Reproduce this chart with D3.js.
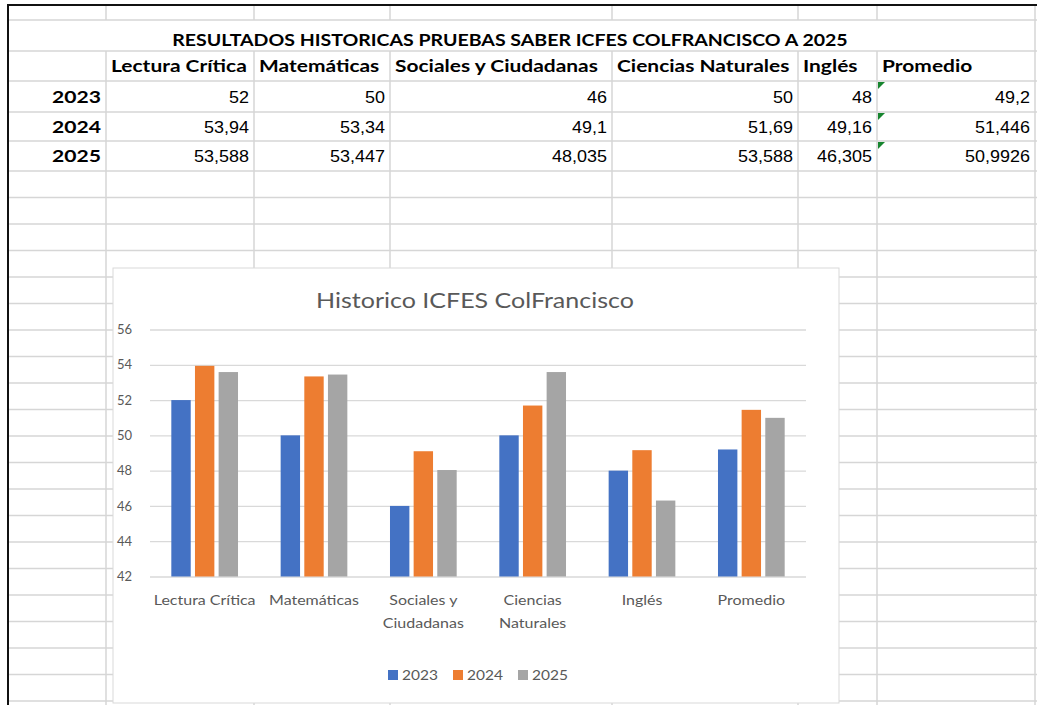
<!DOCTYPE html>
<html lang="es">
<head>
<meta charset="UTF-8">
<title>Historico ICFES ColFrancisco</title>
<script src="https://cdn.jsdelivr.net/npm/d3@7"></script>
<style>
  body{margin:0;background:#fff;}
  svg{display:block;}
</style>
</head>
<body>
<svg id="sheet" width="1037" height="705"></svg>
<script>
var sheetTitle = 'RESULTADOS HISTORICAS PRUEBAS SABER ICFES COLFRANCISCO A 2025';
var chartTitle = 'Historico ICFES ColFrancisco';
var categories = ['Lectura Crítica','Matemáticas','Sociales y Ciudadanas','Ciencias Naturales','Inglés','Promedio'];
var axisLabels = [['Lectura Crítica'],['Matemáticas'],['Sociales y','Ciudadanas'],['Ciencias','Naturales'],['Inglés'],['Promedio']];
var years = ['2023','2024','2025'];
var values2023 = [52,50,46,50,48,49.2];
var values2024 = [53.94,53.34,49.1,51.69,49.16,51.446];
var values2025 = [53.588,53.447,48.035,53.588,46.305,50.9926];
var yTicks = [42,44,46,48,50,52,54,56];
var colors = ['#4472C4','#ED7D31','#A5A5A5'];

var series = [values2023, values2024, values2025];

window.addEventListener('load', function(){

  var svg = d3.select('#sheet');
  var lato = 'Lato, Calibri, sans-serif';
  var arial = '"Liberation Sans", Arial, sans-serif';

  // sheet layout
  var colX = [8,106,254,390,612,798,877,1035];
  var rowY = [5,20,51,81,112,141,171];
  while (rowY[rowY.length-1] < 705) rowY.push(rowY[rowY.length-1] + 26.5);
  var gridColor = '#d6d6d6';

  // measure helper so Lato can stand in for Calibri widths
  function textWidth(str, family, size, weight){
    var t = svg.append('text')
      .attr('font-family', family).attr('font-size', size).attr('font-weight', weight)
      .text(str);
    var w = t.node().getComputedTextLength();
    t.remove();
    return w;
  }
  function makeStyle(family, size, weight, fill, sample, target){
    return {family:family, size:size, weight:weight, fill:fill,
            sx: target / textWidth(sample, family, size, weight)};
  }
  function label(parent, str, x, y, st, anchor){
    return parent.append('text')
      .attr('transform', 'translate(' + x + ',' + y + ') scale(' + st.sx + ',1)')
      .attr('font-family', st.family).attr('font-size', st.size)
      .attr('font-weight', st.weight).attr('fill', st.fill)
      .attr('text-anchor', anchor || 'start')
      .text(str);
  }

  var sTitle  = makeStyle(lato, 17, 'bold', '#000', sheetTitle, 676);
  var sHead   = makeStyle(lato, 17.5, 'bold', '#000', 'Sociales y Ciudadanas', 203);
  var sYear   = makeStyle(lato, 17.5, 'bold', '#000', '2025', 49);
  var sNum    = makeStyle(arial, 16, 'normal', '#000', '53,588', 55);
  var sChart  = makeStyle(lato, 22, 'normal', '#595959', chartTitle, 318);
  var sTick   = makeStyle(lato, 14, 'normal', '#595959', 'Matemáticas', 90);
  var sLegend = makeStyle(lato, 14, 'normal', '#595959', '2023', 36);

  // ---- spreadsheet grid ----
  var grid = svg.append('g').attr('stroke', gridColor).attr('stroke-width', 1.5);
  grid.selectAll('line.h')
    .data(rowY.slice(1))
    .enter().append('line')
    .attr('x1', colX[0]).attr('x2', 1037)
    .attr('y1', function(d){ return d; }).attr('y2', function(d){ return d; });
  colX.slice(1).forEach(function(x, i){
    var last = i === colX.length - 2;
    var segs = last ? [[5,705]] : [[5,rowY[1]],[rowY[2],705]];
    segs.forEach(function(s){
      grid.append('line').attr('x1', x).attr('x2', x).attr('y1', s[0]).attr('y2', s[1]);
    });
  });
  svg.append('line').attr('x1', colX[0]).attr('x2', 1037).attr('y1', 5).attr('y2', 5)
    .attr('stroke', '#111').attr('stroke-width', 2);
  svg.append('line').attr('x1', colX[0]).attr('x2', colX[0]).attr('y1', 4).attr('y2', 705)
    .attr('stroke', '#111').attr('stroke-width', 2);

  // ---- table ----
  var table = svg.append('g');
  label(table, sheetTitle, 510, 46, sTitle, 'middle');
  categories.forEach(function(c, i){
    label(table, c, colX[i+1] + 5, 72, sHead);
  });
  years.forEach(function(yr, j){
    var base = (rowY[3+j] + rowY[4+j]) / 2 + 6;
    label(table, yr, colX[1] - 5, base, sYear, 'end');
    series[j].forEach(function(v, i){
      label(table, String(v).replace('.', ','), colX[i+2] - 5, base, sNum, 'end');
    });
    table.append('path')
      .attr('d', d3.line()([[colX[6]+1, rowY[3+j]+1],[colX[6]+8, rowY[3+j]+1],[colX[6]+1, rowY[3+j]+8]]))
      .attr('fill', '#17852f');
  });

  // ---- chart ----
  var box = {x:113, y:268, w:726, h:435};
  var chart = svg.append('g');
  chart.append('rect')
    .attr('x', box.x).attr('y', box.y).attr('width', box.w).attr('height', box.h)
    .attr('fill', '#fff').attr('stroke', '#d9d9d9').attr('stroke-width', 1);

  label(chart, chartTitle, box.x + box.w/2 - 1, 308, sChart, 'middle');

  var plotL = 150, plotR = 806;
  var y = d3.scaleLinear().domain([42,56]).range([576.5,329.5]);
  var x0 = d3.scaleBand().domain(categories).range([plotL, plotR]).paddingInner(0.39).paddingOuter(0.195);
  var x1 = d3.scaleBand().domain(years).range([0, x0.bandwidth()]).paddingInner(0.18);

  var yAxis = chart.append('g')
    .attr('transform', 'translate(' + plotL + ',0)')
    .call(d3.axisLeft(y).tickValues(yTicks).tickSize(-(plotR - plotL)).tickPadding(18));
  yAxis.select('.domain').remove();
  yAxis.selectAll('line').attr('stroke', '#d9d9d9').attr('stroke-width', 1.3);
  yAxis.selectAll('text')
    .attr('font-family', lato).attr('font-size', 13).attr('fill', '#595959');

  var groups = chart.selectAll('g.cat')
    .data(categories)
    .enter().append('g')
    .attr('transform', function(d){ return 'translate(' + x0(d) + ',0)'; });
  groups.selectAll('rect')
    .data(function(d, i){ return years.map(function(yr, j){ return {year:yr, value:series[j][i], k:j}; }); })
    .enter().append('rect')
    .attr('x', function(d){ return x1(d.year); })
    .attr('width', x1.bandwidth())
    .attr('y', function(d){ return y(d.value); })
    .attr('height', function(d){ return y(42) - y(d.value); })
    .attr('fill', function(d){ return colors[d.k]; });

  var xAxis = chart.append('g')
    .attr('transform', 'translate(0,' + y(42) + ')')
    .call(d3.axisBottom(x0).tickSize(0).tickFormat(''));
  xAxis.select('.domain').remove();
  xAxis.selectAll('.tick').each(function(d, i){
    var t = d3.select(this).append('text')
      .attr('transform', 'translate(0,' + (605 - y(42)) + ') scale(' + sTick.sx + ',1)')
      .attr('font-family', lato).attr('font-size', sTick.size).attr('fill', sTick.fill)
      .attr('text-anchor', 'middle');
    axisLabels[i].forEach(function(line, k){
      t.append('tspan').attr('x', 0).attr('y', k * 23).text(line);
    });
  });

  // legend
  var pitch = 65, sq = 10;
  var legW = pitch * (years.length - 1) + sq + 4 + 36;
  var legX = box.x + box.w/2 - legW/2 + 2;
  var legend = chart.selectAll('g.leg')
    .data(years)
    .enter().append('g')
    .attr('transform', function(d, j){ return 'translate(' + (legX + j * pitch) + ',670)'; });
  legend.append('rect')
    .attr('width', sq).attr('height', sq)
    .attr('fill', function(d, j){ return colors[j]; });
  legend.each(function(d){
    label(d3.select(this), d, sq + 4, 10, sLegend);
  });

}, false);
</script>
</body>
</html>
